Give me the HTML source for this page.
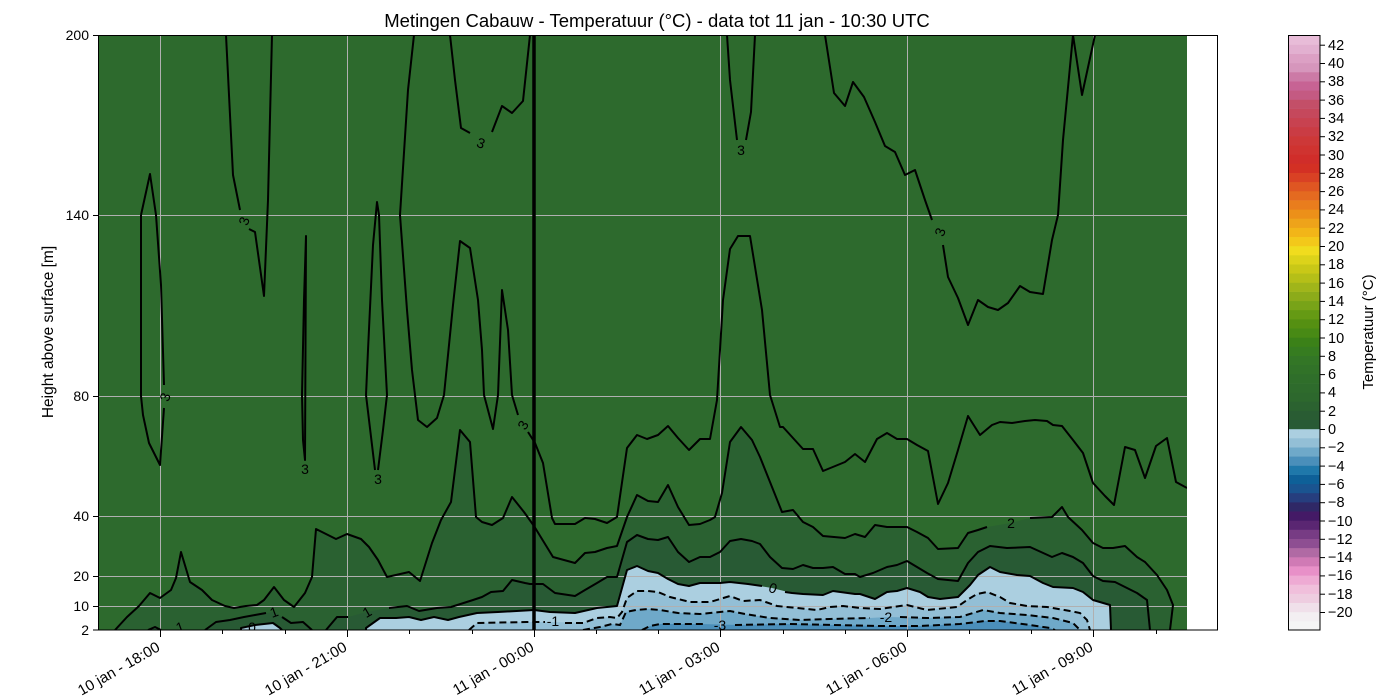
<!DOCTYPE html>
<html><head><meta charset="utf-8"><style>
html,body{margin:0;padding:0;background:#fff;}
svg{display:block;font-family:"Liberation Sans","DejaVu Sans",sans-serif;}
</style></head><body>
<svg width="1400" height="700" viewBox="0 0 1400 700" xmlns="http://www.w3.org/2000/svg">
<rect width="1400" height="700" fill="#fff"/>
<text x="657" y="27" font-size="18.5" text-anchor="middle">Metingen Cabauw - Temperatuur (°C) - data tot 11 jan - 10:30 UTC</text>
<defs><clipPath id="pc"><rect x="98" y="35" width="1089" height="595"/></clipPath></defs>
<g clip-path="url(#pc)">
<rect x="98" y="35" width="1089" height="595" fill="#2d6a2d"/>
<polygon fill="#2a6131" points="115,630 127,617 139,606 150,593 160,598 171,590 176,578 181,552 190,582 202,590 212,600 225,606 234,608 246,606 257,605 264,600 274,587 284,600 294,607 305,593 312,577 316,529 336,539 347,534 361,539 369,547 378,560 387,577 409,572 420,581 432,543 441,520 451,502 460,430 470,442 476,517 482,522 492,525 503,518 512,497 524,512 534,526 553,557 575,563 585,553 595,552 607,548 617,546 627,517 637,495 648,501 658,502 668,485 678,507 689,525 700,524 710,520 715,517 722,493 730,442 741,427 752,440 760,457 770,482 782,512 793,510 803,522 813,527 823,536 845,538 855,534 865,537 875,525 887,527 907,527 917,532 928,538 938,549 958,548 968,533 978,530 987,527 1011,523 1030,518 1052,517 1062,507 1068,517 1082,530 1093,543 1103,548 1113,548 1125,546 1137,557 1145,562 1157,575 1167,590 1173,605 1170,630"/>
<polygon fill="#285a34" points="326,630 337,617 348,617 367,612 389,608 407,606 419,611 437,608 451,607 473,600 482,597 491,592 503,591 512,580 525,583 530,584 543,584 555,593 575,596 585,590 597,583 607,577 617,577 627,542 637,535 648,539 658,540 668,537 678,552 689,562 700,557 710,557 720,552 730,541 741,539 752,541 760,544 770,557 782,568 793,569 803,565 813,568 823,568 833,567 845,574 855,574 860,577 873,573 887,567 897,565 907,561 917,567 927,573 938,579 958,581 968,563 978,552 990,546 1007,548 1030,547 1052,557 1062,553 1073,557 1083,563 1093,576 1103,581 1115,582 1127,588 1137,593 1147,600 1150,630"/>
<polygon fill="#285a34" points="148,630 155,627 161,630"/>
<polygon fill="#285a34" points="205,630 216,622 230,620 244,617 255,615 274,612 282,617 291,623 303,622 312,630"/>
<polygon fill="#abcfe0" points="366,630 366,628 380,618 396,618 409,617 421,620 434,617 448,620 459,617 477,613 498,612 534,610 550,612 575,613 597,608 617,606 627,570 637,566 648,571 658,573 668,579 678,584 689,586 700,583 720,583 730,582 748,584 772,588 792,593 803,594 823,595 833,591 855,594 860,594 875,599 887,592 897,591 907,588 920,592 928,597 940,599 958,597 970,585 978,575 990,567 1000,572 1017,575 1030,576 1043,583 1053,587 1073,588 1083,592 1093,600 1110,605 1111,630"/>
<polygon fill="#abcfe0" points="241,630 241,628 255,625 273,623 280,628 282,630"/>
<polygon fill="#93bfd6" points="469,630 477,623 527,622 553,622 583,623 597,618 610,617 617,618 622,612 627,598 637,591 648,591 658,592 670,597 690,602 710,602 730,596 743,601 760,600 777,606 797,608 817,610 830,607 843,606 860,608 880,609 907,605 927,610 957,607 967,600 977,594 987,592 1000,597 1010,603 1027,606 1047,607 1070,611 1080,613 1087,620 1090,630"/>
<polygon fill="#6fa9c9" points="583,630 600,627 612,624 620,625 626,612 636,610 648,609 660,610 678,613 700,614 720,612 730,611 745,614 770,618 800,620 830,619 870,618 887,617 927,618 960,617 983,610 1000,613 1027,615 1053,618 1073,623 1080,630"/>
<polygon fill="#4b8fba" points="642,630 650,626 660,624 700,624 740,625 790,624 833,625 877,626 920,626 960,624 985,621 1000,621 1030,625 1050,628 1055,630"/>
<g stroke="#b0b0b0" stroke-width="1">
<line x1="160.5" y1="35" x2="160.5" y2="630"/><line x1="347.5" y1="35" x2="347.5" y2="630"/><line x1="720.5" y1="35" x2="720.5" y2="630"/><line x1="907.5" y1="35" x2="907.5" y2="630"/><line x1="1093.5" y1="35" x2="1093.5" y2="630"/>
<line x1="98" y1="215.5" x2="1218" y2="215.5"/><line x1="98" y1="396.5" x2="1218" y2="396.5"/><line x1="98" y1="516.5" x2="1218" y2="516.5"/><line x1="98" y1="576.5" x2="1218" y2="576.5"/><line x1="98" y1="606.5" x2="1218" y2="606.5"/>
</g>
<g fill="none" stroke="#000" stroke-width="2" stroke-linejoin="round">
<polyline points="115,630 127,617 139,606 150,593 160,598 171,590 176,578 181,552 190,582 202,590 212,600 225,606 234,608 246,606 257,605 264,600 274,587 284,600 294,607 305,593 312,577 316,529 336,539 347,534 361,539 369,547 378,560 387,577 409,572 420,581 432,543 441,520 451,502 460,430 470,442 476,517 482,522 492,525 503,518 512,497 524,512 534,526 553,557 575,563 585,553 595,552 607,548 617,546 627,517 637,495 648,501 658,502 668,485 678,507 689,525 700,524 710,520 715,517 722,493 730,442 741,427 752,440 760,457 770,482 782,512 793,510 803,522 813,527 823,536 845,538 855,534 865,537 875,525 887,527 907,527 917,532 928,538 938,549 958,548 968,533 978,530 987,527"/>
<polyline points="1030,518 1052,517 1062,507 1068,517 1082,530 1093,543 1103,548 1113,548 1125,546 1137,557 1145,562 1157,575 1167,590 1173,605 1170,630"/>
<polyline points="326,630 337,617 348,617"/>
<polyline points="389,608 407,606 419,611 437,608 451,607 473,600 482,597 491,592 503,591 512,580 525,583 530,584 543,584 555,593 575,596 585,590 597,583 607,577 617,577 627,542 637,535 648,539 658,540 668,537 678,552 689,562 700,557 710,557 720,552 730,541 741,539 752,541 760,544 770,557 782,568 793,569 803,565 813,568 823,568 833,567 845,574 855,574 860,577 873,573 887,567 897,565 907,561 917,567 927,573 938,579 958,581 968,563 978,552 990,546 1007,548 1030,547 1052,557 1062,553 1073,557 1083,563 1093,576 1103,581 1115,582 1127,588 1137,593 1147,600 1150,630"/>
<polyline points="148,630 155,627 161,630"/>
<polyline points="205,630 216,622 230,620 244,617 255,615 266,613"/><polyline points="282,617 291,623 303,622 312,630"/>
<polyline points="366,630 366,628 380,618 396,618 409,617 421,620 434,617 448,620 459,617 477,613 498,612 534,610 550,612 575,613 597,608 617,606 627,570 637,566 648,571 658,573 668,579 678,584 689,586 700,583 720,583 730,582 748,584 762,586"/>
<polyline points="785,592 792,593 803,594 823,595 833,591 855,594 860,594 875,599 887,592 897,591 907,588 920,592 928,597 940,599 958,597 970,585 978,575 990,567 1000,572 1017,575 1030,576 1043,583 1053,587 1073,588 1083,592 1093,600 1110,605 1111,630"/>
<polyline points="241,630 241,628 255,625 273,623 280,628 282,630"/>
<polyline points="141,215 150,174 156,215 161,285 164,385"/><polyline points="164,408 160,465 149,443 143,415 141,396 141,215"/>
<polyline points="226,35 233,175 240,210"/><polyline points="249,229 255,232 264,296 268,200 272,35"/>
<polyline points="302,395 303,440 305,460 306,236 304,300 302,395"/>
<polyline points="375,470 366,395 368,350 373,245 377,202 379,215 382,300 387,395 383,430 378,470"/>
<polyline points="414,35 408,90 400,215 407,310 412,370 418,420 427,427 437,418 444,395 448,355 453,305 460,241 470,248 478,300 482,350 484,395 493,429 498,395 502,290 508,330 512,395 518,415"/>
<polyline points="528,432 535,443 543,463 552,518 555,524 575,524 585,518 595,519 607,523 617,517 627,448 637,435 647,439 658,435 668,426 678,438 689,450 700,439 710,439 717,400 723,300 730,249 738,236 750,236 762,310 770,395 780,427 783,427 803,449 813,449 823,471 845,462 855,454 865,462 877,439 887,433 897,439 907,439 917,445 928,451 938,504 948,483 958,450 968,416 980,435 992,425 1000,422 1012,423 1025,421 1035,420 1047,421 1053,425 1062,426 1073,440 1083,453 1093,483 1105,496 1114,505 1125,447 1135,450 1145,478 1156,446 1167,438 1176,482 1187,488"/>
<polyline points="450,35 455,80 461,128 470,133"/><polyline points="492,132 502,106 512,113 523,101 530,35"/>
<polyline points="727,35 730,80 737,140"/><polyline points="746,140 751,112 755,35"/>
<polyline points="825,35 834,93 845,106 853,82 864,97 875,122 885,146 895,152 905,175 915,170 925,200 932,220"/><polyline points="943,245 948,277 958,298 968,325 978,300 988,307 998,310 1008,303 1020,286 1030,292 1043,294 1052,240 1058,215 1063,140 1073,35 1082,95 1095,35"/>
</g>
<g fill="none" stroke="#000" stroke-width="2" stroke-dasharray="7,4">
<polyline points="469,630 477,623 527,622 545,622"/><polyline points="565,623 583,623 597,618 610,617 617,618 622,612 627,598 637,591 648,591 658,592 670,597 690,602 710,602 730,596 743,601 760,600 777,606 797,608 817,610 830,607 843,606 860,608 880,609 907,605 927,610 957,607 967,600 977,594 987,592 1000,597 1010,603 1027,606 1047,607 1070,611 1080,613 1087,620 1090,630"/>
<polyline points="583,630 600,627 612,624 620,625 626,612 636,610 648,609 660,610 678,613 700,614 720,612 730,611 745,614 770,618 800,620 830,619 870,618"/><polyline points="900,617 927,618 960,617 983,610 1000,613 1027,615 1053,618 1073,623 1080,630"/>
<polyline points="642,630 650,626 660,624 705,624"/><polyline points="735,625 790,624 833,625 877,626 920,626 960,624 985,621 1000,621 1030,625 1050,628 1055,630"/>
</g>
<g font-size="14" fill="#000" text-anchor="middle">
<text x="165" y="402" transform="rotate(-70 165 397)">3</text>
<text x="244" y="226" transform="rotate(-70 244 221)">3</text>
<text x="305" y="474">3</text>
<text x="378" y="484">3</text>
<text x="481" y="148" transform="rotate(20 481 143)">3</text>
<text x="523" y="430" transform="rotate(-60 523 425)">3</text>
<text x="741" y="155">3</text>
<text x="940" y="237" transform="rotate(-70 940 232)">3</text>
<text x="1011" y="528">2</text>
<text x="180" y="632" transform="rotate(-20 180 627)">1</text>
<text x="274" y="617" transform="rotate(-20 274 612)">1</text>
<text x="367" y="617" transform="rotate(-30 367 612)">1</text>
<text x="252" y="632">0</text>
<text x="773" y="593" transform="rotate(20 773 588)">0</text>
<text x="553" y="626">-1</text>
<text x="720" y="630">-3</text>
<text x="886" y="622">-2</text>
</g>
</g>
<line x1="534" y1="35" x2="534" y2="630" stroke="#000" stroke-width="3.5"/>
<rect x="98.5" y="35.5" width="1119" height="594.5" fill="none" stroke="#000" stroke-width="1"/>
<g stroke="#000" stroke-width="1">
<line x1="98" y1="35.5" x2="93" y2="35.5"/><line x1="98" y1="215.5" x2="93" y2="215.5"/><line x1="98" y1="396.5" x2="93" y2="396.5"/><line x1="98" y1="516.5" x2="93" y2="516.5"/><line x1="98" y1="576.5" x2="93" y2="576.5"/><line x1="98" y1="606.5" x2="93" y2="606.5"/><line x1="98" y1="630" x2="93" y2="630"/>
<line x1="160.5" y1="630" x2="160.5" y2="637"/><line x1="347.5" y1="630" x2="347.5" y2="637"/><line x1="534.5" y1="630" x2="534.5" y2="637"/><line x1="720.5" y1="630" x2="720.5" y2="637"/><line x1="907.5" y1="630" x2="907.5" y2="637"/><line x1="1093.5" y1="630" x2="1093.5" y2="637"/>
<line x1="222.5" y1="630" x2="222.5" y2="634"/><line x1="285.5" y1="630" x2="285.5" y2="634"/><line x1="409.5" y1="630" x2="409.5" y2="634"/><line x1="472.5" y1="630" x2="472.5" y2="634"/><line x1="596.5" y1="630" x2="596.5" y2="634"/><line x1="658.5" y1="630" x2="658.5" y2="634"/><line x1="783.5" y1="630" x2="783.5" y2="634"/><line x1="845.5" y1="630" x2="845.5" y2="634"/><line x1="969.5" y1="630" x2="969.5" y2="634"/><line x1="1031.5" y1="630" x2="1031.5" y2="634"/><line x1="1156.5" y1="630" x2="1156.5" y2="634"/>
</g>
<g font-size="14" text-anchor="end">
<text x="89" y="40">200</text><text x="89" y="220">140</text><text x="89" y="401">80</text><text x="89" y="521">40</text><text x="89" y="581">20</text><text x="89" y="611">10</text><text x="89" y="635">2</text>
</g>
<g font-size="15" text-anchor="end">
<text transform="translate(161 650) rotate(-30)">10 jan - 18:00</text>
<text transform="translate(348 650) rotate(-30)">10 jan - 21:00</text>
<text transform="translate(535 650) rotate(-30)">11 jan - 00:00</text>
<text transform="translate(721 650) rotate(-30)">11 jan - 03:00</text>
<text transform="translate(908 650) rotate(-30)">11 jan - 06:00</text>
<text transform="translate(1094 650) rotate(-30)">11 jan - 09:00</text>
</g>
<text transform="translate(53 332) rotate(-90)" font-size="15.5" text-anchor="middle">Height above surface [m]</text>
<g id="cb">
<rect x="1288" y="621.0" width="32" height="9.5" fill="#f5f5f5"/><rect x="1288" y="611.8" width="32" height="9.5" fill="#f3eff2"/><rect x="1288" y="602.7" width="32" height="9.5" fill="#f0e0ea"/><rect x="1288" y="593.5" width="32" height="9.5" fill="#eecde0"/><rect x="1288" y="584.4" width="32" height="9.5" fill="#f0bfdb"/><rect x="1288" y="575.2" width="32" height="9.5" fill="#eeaad3"/><rect x="1288" y="566.1" width="32" height="9.5" fill="#e890c8"/><rect x="1288" y="556.9" width="32" height="9.5" fill="#d07ab5"/><rect x="1288" y="547.8" width="32" height="9.5" fill="#b06aa4"/><rect x="1288" y="538.6" width="32" height="9.5" fill="#8e4e92"/><rect x="1288" y="529.5" width="32" height="9.5" fill="#773c84"/><rect x="1288" y="520.3" width="32" height="9.5" fill="#5a2672"/><rect x="1288" y="511.2" width="32" height="9.5" fill="#441a66"/><rect x="1288" y="502.0" width="32" height="9.5" fill="#2f2866"/><rect x="1288" y="492.9" width="32" height="9.5" fill="#263e7e"/><rect x="1288" y="483.7" width="32" height="9.5" fill="#1a5490"/><rect x="1288" y="474.6" width="32" height="9.5" fill="#0e6098"/><rect x="1288" y="465.4" width="32" height="9.5" fill="#1f78aa"/><rect x="1288" y="456.3" width="32" height="9.5" fill="#4a8fba"/><rect x="1288" y="447.1" width="32" height="9.5" fill="#6fa9c9"/><rect x="1288" y="438.0" width="32" height="9.5" fill="#93bfd6"/><rect x="1288" y="428.8" width="32" height="9.5" fill="#abcfe0"/>
<rect x="1288" y="419.7" width="32" height="9.5" fill="#285a35"/><rect x="1288" y="410.5" width="32" height="9.5" fill="#295c33"/><rect x="1288" y="401.4" width="32" height="9.5" fill="#2b6230"/><rect x="1288" y="392.2" width="32" height="9.5" fill="#2d682d"/><rect x="1288" y="383.1" width="32" height="9.5" fill="#2e6b2c"/><rect x="1288" y="373.9" width="32" height="9.5" fill="#2f6e2a"/><rect x="1288" y="364.8" width="32" height="9.5" fill="#317228"/><rect x="1288" y="355.6" width="32" height="9.5" fill="#337626"/><rect x="1288" y="346.5" width="32" height="9.5" fill="#367c20"/><rect x="1288" y="337.3" width="32" height="9.5" fill="#3b8118"/><rect x="1288" y="328.2" width="32" height="9.5" fill="#488a15"/><rect x="1288" y="319.0" width="32" height="9.5" fill="#559012"/><rect x="1288" y="309.9" width="32" height="9.5" fill="#659a14"/><rect x="1288" y="300.7" width="32" height="9.5" fill="#78a318"/><rect x="1288" y="291.6" width="32" height="9.5" fill="#8cab1a"/><rect x="1288" y="282.4" width="32" height="9.5" fill="#a0b51a"/><rect x="1288" y="273.3" width="32" height="9.5" fill="#b5bf18"/><rect x="1288" y="264.1" width="32" height="9.5" fill="#c9c817"/><rect x="1288" y="255.0" width="32" height="9.5" fill="#dcd31a"/><rect x="1288" y="245.8" width="32" height="9.5" fill="#f0dc1e"/><rect x="1288" y="236.7" width="32" height="9.5" fill="#f3c81a"/><rect x="1288" y="227.5" width="32" height="9.5" fill="#f2b518"/><rect x="1288" y="218.4" width="32" height="9.5" fill="#eea31a"/><rect x="1288" y="209.2" width="32" height="9.5" fill="#ec9019"/><rect x="1288" y="200.1" width="32" height="9.5" fill="#e97d1d"/><rect x="1288" y="190.9" width="32" height="9.5" fill="#e46a20"/><rect x="1288" y="181.8" width="32" height="9.5" fill="#df5622"/><rect x="1288" y="172.6" width="32" height="9.5" fill="#d94124"/><rect x="1288" y="163.5" width="32" height="9.5" fill="#d33024"/><rect x="1288" y="154.3" width="32" height="9.5" fill="#d02d2a"/><rect x="1288" y="145.2" width="32" height="9.5" fill="#cf3330"/><rect x="1288" y="136.0" width="32" height="9.5" fill="#cd3838"/><rect x="1288" y="126.9" width="32" height="9.5" fill="#ca3c44"/><rect x="1288" y="117.7" width="32" height="9.5" fill="#c84250"/><rect x="1288" y="108.6" width="32" height="9.5" fill="#c5485c"/><rect x="1288" y="99.4" width="32" height="9.5" fill="#c34f68"/><rect x="1288" y="90.3" width="32" height="9.5" fill="#c45a82"/><rect x="1288" y="81.1" width="32" height="9.5" fill="#c76394"/><rect x="1288" y="72.0" width="32" height="9.5" fill="#cc7aa6"/><rect x="1288" y="62.8" width="32" height="9.5" fill="#d696bc"/><rect x="1288" y="53.7" width="32" height="9.5" fill="#dca0c4"/><rect x="1288" y="44.5" width="32" height="9.5" fill="#e2b0d0"/><rect x="1288" y="35.0" width="32" height="9.8" fill="#e8bcd8"/>
<rect x="1288.5" y="35.5" width="31.5" height="594.5" fill="none" stroke="#000" stroke-width="1"/>
</g>
<g stroke="#000" stroke-width="1">
<line x1="1320" y1="45.2" x2="1325" y2="45.2"/><line x1="1320" y1="63.5" x2="1325" y2="63.5"/><line x1="1320" y1="81.8" x2="1325" y2="81.8"/><line x1="1320" y1="100.1" x2="1325" y2="100.1"/><line x1="1320" y1="118.4" x2="1325" y2="118.4"/><line x1="1320" y1="136.7" x2="1325" y2="136.7"/><line x1="1320" y1="155" x2="1325" y2="155"/><line x1="1320" y1="173.3" x2="1325" y2="173.3"/><line x1="1320" y1="191.6" x2="1325" y2="191.6"/><line x1="1320" y1="209.9" x2="1325" y2="209.9"/><line x1="1320" y1="228.2" x2="1325" y2="228.2"/><line x1="1320" y1="246.5" x2="1325" y2="246.5"/><line x1="1320" y1="264.8" x2="1325" y2="264.8"/><line x1="1320" y1="283.1" x2="1325" y2="283.1"/><line x1="1320" y1="301.4" x2="1325" y2="301.4"/><line x1="1320" y1="319.7" x2="1325" y2="319.7"/><line x1="1320" y1="338" x2="1325" y2="338"/><line x1="1320" y1="356.3" x2="1325" y2="356.3"/><line x1="1320" y1="374.6" x2="1325" y2="374.6"/><line x1="1320" y1="392.9" x2="1325" y2="392.9"/><line x1="1320" y1="411.2" x2="1325" y2="411.2"/><line x1="1320" y1="429.5" x2="1325" y2="429.5"/><line x1="1320" y1="447.8" x2="1325" y2="447.8"/><line x1="1320" y1="466.1" x2="1325" y2="466.1"/><line x1="1320" y1="484.4" x2="1325" y2="484.4"/><line x1="1320" y1="502.7" x2="1325" y2="502.7"/><line x1="1320" y1="521" x2="1325" y2="521"/><line x1="1320" y1="539.3" x2="1325" y2="539.3"/><line x1="1320" y1="557.6" x2="1325" y2="557.6"/><line x1="1320" y1="575.9" x2="1325" y2="575.9"/><line x1="1320" y1="594.2" x2="1325" y2="594.2"/><line x1="1320" y1="612.5" x2="1325" y2="612.5"/>
</g>
<g font-size="14.5">
<text x="1328" y="50">42</text><text x="1328" y="68">40</text><text x="1328" y="86">38</text><text x="1328" y="105">36</text><text x="1328" y="123">34</text><text x="1328" y="141">32</text><text x="1328" y="160">30</text><text x="1328" y="178">28</text><text x="1328" y="196">26</text><text x="1328" y="214">24</text><text x="1328" y="233">22</text><text x="1328" y="251">20</text><text x="1328" y="269">18</text><text x="1328" y="288">16</text><text x="1328" y="306">14</text><text x="1328" y="324">12</text><text x="1328" y="343">10</text><text x="1328" y="361">8</text><text x="1328" y="379">6</text><text x="1328" y="397">4</text><text x="1328" y="416">2</text><text x="1328" y="434">0</text><text x="1328" y="452">−2</text><text x="1328" y="471">−4</text><text x="1328" y="489">−6</text><text x="1328" y="507">−8</text><text x="1328" y="526">−10</text><text x="1328" y="544">−12</text><text x="1328" y="562">−14</text><text x="1328" y="580">−16</text><text x="1328" y="599">−18</text><text x="1328" y="617">−20</text>
</g>
<text transform="translate(1373 332) rotate(-90)" font-size="15" text-anchor="middle">Temperatuur (°C)</text>
</svg>
</body></html>
